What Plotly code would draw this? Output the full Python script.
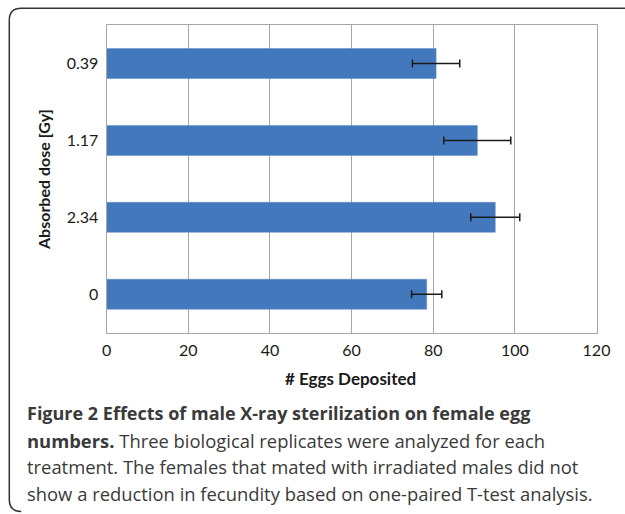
import plotly.graph_objects as go

# Data (top-to-bottom in picture: 0.39, 1.17, 2.34, 0)
doses = ["0", "2.34", "1.17", "0.39"]
eggs = [78.4, 95.2, 90.8, 80.7]
err = [3.7, 6.0, 8.2, 5.8]
x_ticks = [0, 20, 40, 60, 80, 100, 120]

W, H = 625, 514
def px(x): return x / W
def py(y): return 1 - y / H

fig = go.Figure()
fig.add_trace(go.Bar(
    y=doses, x=eggs, orientation="h",
    marker=dict(color="#4379BC", line=dict(color="#5b8bc8", width=0.5)),
    width=0.39,
    error_x=dict(type="data", array=err, visible=True, color="#1a1a1a",
                 thickness=1.5, width=4),
))

chart_font = "Lato, 'Open Sans', sans-serif"
fig.update_layout(
    width=W, height=H,
    margin=dict(l=0, r=0, t=0, b=0, autoexpand=False),
    paper_bgcolor="white", plot_bgcolor="white",
    showlegend=False,
    xaxis=dict(domain=[px(106.7), px(596.5)], range=[0, 120], automargin=False,
               tickvals=x_ticks, ticktext=[str(v) for v in x_ticks],
               showgrid=True, gridcolor="#a6a6a6", gridwidth=1.2,
               zeroline=False, showline=True, linecolor="#a6a6a6", linewidth=1.2,
               mirror=True, ticks="", ticklen=0, ticklabelstandoff=3,
               tickfont=dict(family=chart_font, size=16, color="#1a1a1a")),
    yaxis=dict(domain=[py(332.7), py(25)], type="category", automargin=False,
               categoryorder="array", categoryarray=doses,
               showgrid=False, showline=True, linecolor="#a6a6a6", linewidth=1.2,
               mirror=True, ticks="", ticklen=0, ticklabelstandoff=4,
               tickfont=dict(family=chart_font, size=16, color="#1a1a1a")),
)

# axis titles
fig.add_annotation(text="<b># Eggs Deposited</b>", xref="paper", yref="paper",
                   x=px(350), y=py(378), xanchor="center", yanchor="middle",
                   showarrow=False,
                   font=dict(family=chart_font, size=17, color="#1a1a1a"))
fig.add_annotation(text="<b>Absorbed dose [Gy]</b>", xref="paper", yref="paper",
                   x=px(43), y=py(180), xanchor="center", yanchor="middle",
                   textangle=-90, showarrow=False,
                   font=dict(family=chart_font, size=16, color="#1a1a1a"))

# Rounded outer frame
r = 12
x0, y0, x1, y1 = 9.3, 8.3, 625, 511.5
path = (f"M {px(x0)},{py(y1-r)} L {px(x0)},{py(y0+r)} "
        f"Q {px(x0)},{py(y0)} {px(x0+r)},{py(y0)} L {px(x1)},{py(y0)} "
        f"M {px(x0)},{py(y1-r)} Q {px(x0)},{py(y1)} {px(x0+r)},{py(y1)}")
fig.add_shape(type="path", xref="paper", yref="paper", path=path,
              line=dict(color="#333333", width=1.5))

cap_font = "'Open Sans', 'Noto Sans', sans-serif"
lines = [
    "<b>Figure 2 Effects of male X-ray sterilization on female egg</b>",
    "<b>numbers.</b> Three biological replicates were analyzed for each",
    "treatment. The females that mated with irradiated males did not",
    "show a reduction in fecundity based on one-paired T-test analysis.",
]
sizes = [18.0, 18.4, 18.4, 18.4]
ys = [413, 440, 466.5, 493]
for t, yy, s in zip(lines, ys, sizes):
    fig.add_annotation(text=t, xref="paper", yref="paper", x=px(25), y=py(yy),
                       xanchor="left", yanchor="middle", showarrow=False,
                       font=dict(family=cap_font, size=s, color="#3a3a3a"))

fig.write_html("out.html", config={"displayModeBar": False},
               post_script="document.body.style.margin='0px';document.body.style.overflow='hidden';")
